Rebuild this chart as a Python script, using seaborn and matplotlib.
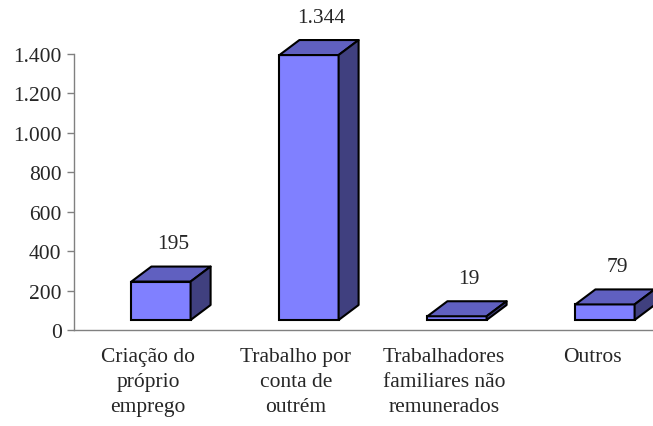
import matplotlib
matplotlib.use("Agg")
import matplotlib.pyplot as plt
from matplotlib.patches import Polygon
import seaborn as sns
import pandas as pd
import numpy as np

categorias = ["Criação do\npróprio\nemprego",
              "Trabalho por\nconta de\noutrém",
              "Trabalhadores\nfamiliares não\nremunerados",
              "Outros"]
valores = [195, 1344, 19, 79]
y_ticks = [0, 200, 400, 600, 800, 1000, 1200, 1400]

sns.set_style("white")
plt.rcParams['font.family'] = ['Liberation Serif', 'DejaVu Serif']
fs = 15.5

fig = plt.figure(figsize=(6.53, 4.27), dpi=100)
ax = fig.add_axes([74 / 653, 96 / 427, 592 / 653, 276 / 427])

df = pd.DataFrame({"cat": categorias, "val": valores})
sns.barplot(data=df, x="cat", y="val", color="#8080FF", saturation=1,
            width=0.4, edgecolor="black", linewidth=1.5, ax=ax)

ax.set_xlim(-0.5, 3.5)
ax.set_ylim(0, 1400)
ax.set_xlabel("")
ax.set_ylabel("")

# 3D look: front face shifted, top and side faces added (pixel offsets)
shift = np.array([13, 10])
depth = np.array([20, 15])
to_px = ax.transData.transform
to_data = ax.transData.inverted().transform

for bar, v in zip(ax.patches, valores):
    x0, w, h = bar.get_x(), bar.get_width(), bar.get_height()
    bl = to_px((x0, 0)) + shift
    tr = to_px((x0 + w, h)) + shift
    nb = to_data(bl)
    bar.set_x(nb[0])
    bar.set_y(nb[1])
    tl = np.array([bl[0], tr[1]])
    br = np.array([tr[0], bl[1]])
    top = [tl, tr, tr + depth, tl + depth]
    side = [br, tr, tr + depth, br + depth]
    ax.add_patch(Polygon(to_data(np.array(top)), closed=True, fc="#6060C0",
                         ec="black", lw=1.5, joinstyle="round", clip_on=False))
    ax.add_patch(Polygon(to_data(np.array(side)), closed=True, fc="#40407F",
                         ec="black", lw=1.5, joinstyle="round", clip_on=False))
    lab = np.array([(bl[0] + tr[0]) / 2 + 12, tr[1] + depth[1] + 23])
    ax.text(*to_data(lab), f"{v:,}".replace(",", "."), ha="center", va="center",
            fontsize=fs)

ax.set_yticks(y_ticks)
ax.set_yticklabels([f"{t:,}".replace(",", ".") for t in y_ticks])
ax.set_xticks(range(len(categorias)))
ax.set_xticklabels(categorias, linespacing=1.45)
ax.set_xticks([-0.5, 0.5, 1.5, 2.5], minor=True)
ax.tick_params(axis="x", which="major", length=0, pad=12, labelsize=fs)
ax.tick_params(axis="x", which="minor", length=5, width=1, color="#808080",
               direction="out")
ax.tick_params(axis="y", length=5, width=1, color="#808080", direction="out",
               pad=4, labelsize=fs, left=True)

sns.despine(ax=ax, top=True, right=True)
for s in ["left", "bottom"]:
    ax.spines[s].set_color("#808080")
    ax.spines[s].set_linewidth(1)

fig.savefig("out.png", dpi=100)
